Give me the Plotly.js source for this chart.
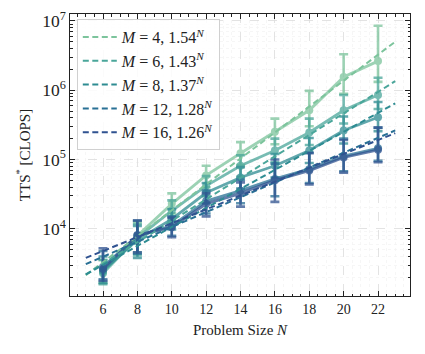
<!DOCTYPE html>
<html>
<head>
<meta charset="utf-8">
<script src="https://cdn.plot.ly/plotly-3.0.1.min.js"></script>
<style>
  html, body { margin: 0; padding: 0; background: #fff; }
  #chart { width: 425px; height: 354px; }
</style>
</head>
<body>
<div id="chart"></div>
<script>
// Tamaños de problema
const N = [6, 8, 10, 12, 14, 16, 18, 20, 22];

// TTS* (CLOPS) por valor de M, con extremos de las barras de error
const ttsM4  = [2400, 7940, 22900, 58900, 123000, 251000, 513000, 1550000, 2630000];
const hiM4   = [3550, 12600, 32400, 81300, 178000, 389000, 977000, 3310000, 8510000];
const loM4   = [1660, 4570, 16600, 39800, 83200, 166000, 302000, 891000, 1320000];

const ttsM6  = [2290, 7410, 18200, 41700, 81300, 135000, 245000, 513000, 851000];
const hiM6   = [3550, 11750, 25700, 57500, 115000, 200000, 389000, 851000, 1510000];
const loM6   = [1580, 4170, 13200, 29500, 56200, 91200, 162000, 331000, 537000];

const ttsM8  = [2510, 6920, 13800, 33100, 55000, 81300, 135000, 263000, 407000];
const hiM8   = [3980, 11000, 19100, 45700, 77600, 120000, 204000, 417000, 676000];
const loM8   = [1660, 3800, 9770, 23400, 38000, 55000, 89100, 170000, 257000];

const ttsM12 = [2820, 7940, 11000, 25100, 35500, 52500, 72400, 112000, 145000];
const hiM12  = [4790, 13200, 15100, 35500, 51300, 87100, 126000, 200000, 288000];
const loM12  = [1860, 4370, 7940, 16600, 23400, 29500, 45700, 67600, 95500];

const ttsM16 = [2630, 8130, 10500, 22900, 32400, 50100, 69200, 107000, 138000];
const hiM16  = [5250, 13200, 14500, 32400, 46800, 100000, 123000, 191000, 288000];
const loM16  = [1780, 4570, 7590, 15100, 20900, 24500, 43700, 64600, 91200];

// Ajustes exponenciales (extremos de la recta en escala log)
const fitN   = [5, 23];
const fitM4  = [2140, 5010000];
const fitM6  = [2190, 1350000];
const fitM8  = [2190, 646000];
const fitM12 = [3090, 263000];
const fitM16 = [3800, 240000];

const mVals  = ['4', '6', '8', '12', '16'];
const bases  = ['1.54', '1.43', '1.37', '1.28', '1.26'];
const colors = ['#7cc49c', '#4aa69a', '#2e8c92', '#297095', '#2f5290'];

const series = [
  { y: ttsM4,  hi: hiM4,  lo: loM4,  fit: fitM4 },
  { y: ttsM6,  hi: hiM6,  lo: loM6,  fit: fitM6 },
  { y: ttsM8,  hi: hiM8,  lo: loM8,  fit: fitM8 },
  { y: ttsM12, hi: hiM12, lo: loM12, fit: fitM12 },
  { y: ttsM16, hi: hiM16, lo: loM16, fit: fitM16 }
];

const traces = [];
series.forEach((s, i) => {
  traces.push({
    x: N, y: s.y, mode: 'lines+markers', showlegend: false, opacity: 0.75,
    line: { color: colors[i], width: 2.8 },
    marker: { color: colors[i], size: 8 },
    error_y: {
      type: 'data', symmetric: false,
      array: s.hi.map((h, k) => h - s.y[k]),
      arrayminus: s.lo.map((l, k) => s.y[k] - l),
      color: colors[i], thickness: 2.6, width: 4.5
    },
    hoverinfo: 'skip'
  });
});
series.forEach((s, i) => {
  traces.push({
    x: fitN, y: s.fit, mode: 'lines',
    name: '<i>M</i>\u00a0=\u00a0' + mVals[i] + ',\u00a0' + bases[i] + '<sup><i>N</i></sup>',
    line: { color: colors[i], width: 2, dash: '6px,3.5px' }
  });
});

const serif = 'Liberation Serif, DejaVu Serif, serif';

const layout = {
  width: 425, height: 354,
  margin: { l: 70, r: 15, t: 14, b: 58 },
  paper_bgcolor: '#fff', plot_bgcolor: '#fff',
  font: { family: serif, color: '#222', size: 14 },
  showlegend: true,
  legend: {
    x: 0.02, y: 0.982, xanchor: 'left', yanchor: 'top',
    bgcolor: 'rgba(255,255,255,0.85)', bordercolor: '#d0d0d0', borderwidth: 1,
    font: { family: serif, size: 16, color: '#222' },
    itemwidth: 34, tracegroupgap: 0
  },
  xaxis: {
    range: [4.08, 23.86], tick0: 0, dtick: 2,
    showline: true, linecolor: '#222', linewidth: 1.3, mirror: 'allticks',
    ticks: 'inside', ticklen: 5, tickcolor: '#222',
    showgrid: true, gridcolor: '#dcdcdc', griddash: 'dash', gridwidth: 0.8,
    minor: { dtick: 0.5, ticks: 'inside', ticklen: 2.5, tickcolor: '#222', showgrid: true, gridcolor: '#f4f4f4', griddash: 'dot' },
    zeroline: false,
    title: { text: 'Problem Size <i>N</i>', font: { family: serif, size: 15 }, standoff: 8 },
    tickfont: { family: serif, size: 14 }
  },
  yaxis: {
    type: 'log', range: [3.03, 7.10], dtick: 1, exponentformat: 'power',
    showline: true, linecolor: '#222', linewidth: 1.3, mirror: 'allticks',
    ticks: 'inside', ticklen: 5, tickcolor: '#222',
    showgrid: true, gridcolor: '#dcdcdc', griddash: 'dash', gridwidth: 0.8,
    minor: { dtick: 'D1', ticks: 'inside', ticklen: 2.5, tickcolor: '#222', showgrid: true, gridcolor: '#f4f4f4', griddash: 'dot' },
    zeroline: false,
    title: { text: 'TTS<sup>*</sup> [CLOPS]', font: { family: serif, size: 15 }, standoff: 8 },
    tickfont: { family: serif, size: 14 }
  }
};

Plotly.newPlot('chart', traces, layout, { displayModeBar: false, staticPlot: true });
</script>
</body>
</html>
